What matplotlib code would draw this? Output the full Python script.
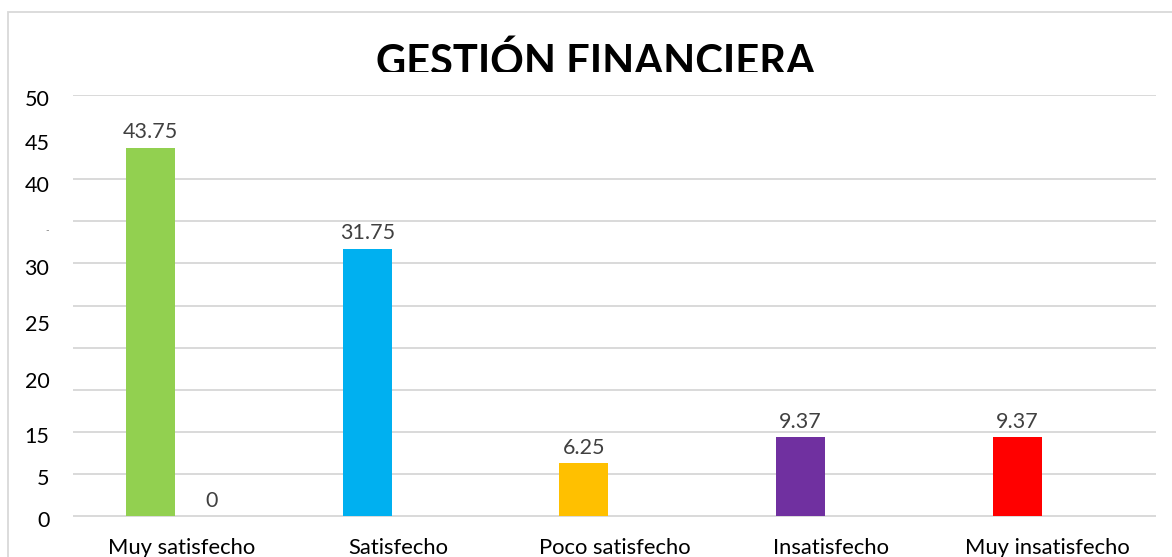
import matplotlib
matplotlib.use("Agg")
import matplotlib.pyplot as plt
from matplotlib.patches import Rectangle
import numpy as np

# ---- data ----
categories = ["Muy satisfecho", "Satisfecho", "Poco satisfecho", "Insatisfecho", "Muy insatisfecho"]
series1 = [43.75, 31.75, 6.25, 9.37, 9.37]
series1_labels = ["43.75", "31.75", "6.25", "9.37", "9.37"]
series2 = [0, None, None, None, None]
series2_labels = ["0", "", "", "", ""]
bar_colors = ["#92D050", "#00B0F0", "#FFC000", "#7030A0", "#FF0000"]
ytick_labels = ["50", "45", "40", "-", "30", "25", "20", "15", "5", "0"]
grid_values = [0, 5, 10, 15, 20, 25, 30, 35, 40, 50]
title = "GESTIÓN FINANCIERA"

# ---- layout ----
W, H = 1172, 557
ytick_pos = [49.65, 44.46, 39.39, 34.0, 29.6, 22.88, 16.16, 9.67, 4.6, -0.35]
FONT = "Lato"

fig = plt.figure(figsize=(W / 100, H / 100), dpi=100)
fig.patch.set_facecolor("white")

# chart border (partially cropped)
fig.patches.append(Rectangle((8 / W, -0.1), 1.2, 1.1 - 12 / H, transform=fig.transFigure,
                             fill=False, edgecolor="#D9D9D9", linewidth=1.3, zorder=0))

ax = fig.add_axes([73 / W, (H - 519) / H, 1083 / W, 424 / H])
ax.set_xlim(-0.5, 4.5)
ax.set_ylim(0, 50)
for s in ax.spines.values():
    s.set_visible(False)

ax.hlines(grid_values, -0.5, 4.5, colors="#D9D9D9", linewidth=1.4, zorder=1)

x = np.arange(len(categories))
bw = 0.226
off = 0.141
ax.bar(x - off, series1, width=bw, color=bar_colors, zorder=2)
for xi, v, lab in zip(x, series1, series1_labels):
    ax.annotate(lab, (xi - off, v), xytext=(0, 11), textcoords="offset points",
                ha="center", va="center", fontsize=15.5, color="#404040", family=FONT)
for xi, v, lab in zip(x, series2, series2_labels):
    if v is None:
        continue
    ax.bar(xi + off, v, width=bw, color="#A5A5A5", zorder=2)
    ax.annotate(lab, (xi + off, v), xytext=(0, 11), textcoords="offset points",
                ha="center", va="center", fontsize=15.5, color="#404040", family=FONT)

ax.set_xticks(x, categories, fontsize=15.8, family=FONT, color="black")
ax.set_yticks(ytick_pos, ytick_labels, fontsize=15.5, family=FONT, color="black")
for t in ax.get_yticklabels():
    if t.get_text() == "-":
        t.set_fontsize(7)
        t.set_color("#808080")
ax.tick_params(axis="y", length=0, pad=17)
ax.tick_params(axis="x", length=0, pad=14)

t = fig.text(595.5 / W, 1 - 75 / H, title, ha="center", va="baseline",
             fontsize=30, fontweight="bold", family=FONT, color="black")
t.set_clip_path(Rectangle((0, 1 - 72 / H), 1, 72 / H, transform=fig.transFigure))

fig.savefig("out.png", dpi=100, facecolor="white")
